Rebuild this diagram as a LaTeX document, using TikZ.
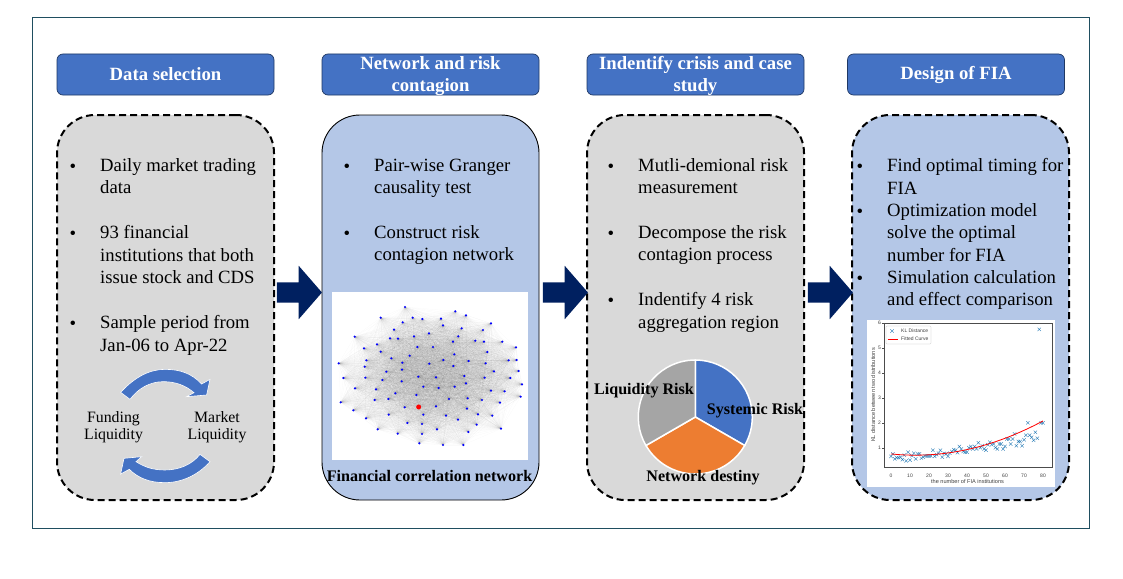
\documentclass[tikz,border=0pt]{standalone}
\usepackage{fontspec}
\setmainfont{Liberation Serif}
\newfontfamily\plotfont{Liberation Sans}
\usetikzlibrary{shapes.arrows,shapes.misc}
\definecolor{headblue}{HTML}{4472C4}
\definecolor{headedge}{HTML}{1F3864}
\definecolor{panelblue}{HTML}{B4C7E7}
\definecolor{panelgray}{HTML}{D9D9D9}
\definecolor{piegray}{HTML}{A5A5A5}
\definecolor{pieorange}{HTML}{ED7D31}
\definecolor{arrownavy}{HTML}{002060}
\definecolor{framecol}{HTML}{1F4E60}
\definecolor{klblue}{HTML}{1F77B4}
\tikzset{
  header/.style = {draw=headedge, fill=headblue, line width=.7pt, rounded corners=6pt, minimum width=217pt, minimum height=41pt, inner sep=0pt},
  headtext/.style = {inner sep=0pt, text=white, align=center, font=\fontsize{18.7}{22.3}\selectfont\bfseries},
  panel/.style = {rounded corners=38pt, minimum width=217pt, minimum height=385pt, inner sep=0pt},
  dashpanel/.style = {panel, draw=black, line width=2pt, dash pattern=on 7pt off 4pt},
  itemtext/.style = {anchor=north west, inner sep=0pt, align=left, font=\fontsize{18.7}{22.3}\selectfont, execute at begin node=\strut},
  itemdot/.style = {inner sep=0pt, font=\fontsize{18.7}{18.7}\selectfont},
  blockarrow/.style = {single arrow, fill=arrownavy, inner sep=10pt, minimum height=45pt,
    single arrow head extend=16.5pt, single arrow head indent=0pt, single arrow tip angle=98},
  loopflow/.style = {fill=headblue, draw=white, line width=.6pt},
  looplabel/.style = {inner sep=0pt, align=center, font=\fontsize{15.8}{17}\selectfont},
  wedge/.style = {draw=white, line width=1.5pt},
  pielabel/.style = {inner sep=0pt, font=\fontsize{16.1}{17}\selectfont\bfseries},
  netedge/.style = {draw=black!70, line width=.25pt, opacity=.024},
  netdot/.style = {circle, fill=blue, inner sep=0pt, minimum size=2.4pt},
  klmark/.style = {cross out, draw=klblue, line width=.35pt, inner sep=0pt, minimum size=3pt},
  ticktext/.style = {inner sep=0pt, text=black!75, font=\fontsize{5}{6}\plotfont},
}
\begin{document}
\begin{tikzpicture}[x=1pt, y=-1pt]
\useasboundingbox (0,0) rectangle (1123,578);
\fill[white] (0,0) rectangle (1123,578);
\draw[framecol, line width=.8pt] (32,17) rectangle (1089,528);

% headers
\node[header] (head1) at (165.5,74.5) {};
\node[header] (head2) at (430.5,74.5) {};
\node[header] (head3) at (695.5,74.5) {};
\node[header] (head4) at (956,74.5) {};
\node[headtext] (title1) at (head1) {Data selection};
\node[headtext] (title2) at (430.5,76) {Network and risk\\contagion};
\node[headtext] (title3) at (695.5,76) {Indentify crisis and case\\study};
\node[headtext] (title4) at (head4) {Design of FIA};

% panels
\node[dashpanel, fill=panelgray] (panel1) at (165.5,307.5) {};
\node[panel, draw=black, line width=.9pt, fill=panelblue] (panel2) at (430.5,307.5) {};
\node[dashpanel, fill=panelgray] (panel3) at (695.5,307.5) {};
\node[dashpanel, fill=panelblue] (panel4) at (960.5,307.5) {};

% arrows
\node[blockarrow] (arrow1) at (295,292.5) {};
\node[blockarrow] (arrow2) at (561,292.5) {};
\node[blockarrow] (arrow3) at (826,292.5) {};

% bullet items
\foreach \n/\px/\py/\txt in {
  a/100/165/{Daily market trading\\data},
  b/100/232/{93 financial\\institutions that both\\issue stock and CDS},
  c/100/322/{Sample period from\\Jan-06 to Apr-22},
  d/374/165/{Pair-wise Granger\\causality test},
  e/374/232/{Construct risk\\contagion network},
  f/638/165/{Mutli-demional risk\\measurement},
  g/638/232/{Decompose the risk\\contagion process},
  h/638/299/{Indentify 4 risk\\aggregation region},
  i/887/165/{Find optimal timing for\\FIA},
  j/887/210/{Optimization model\\solve the optimal\\number for FIA},
  k/887/277/{Simulation calculation\\and effect comparison}} {
  \node[itemtext] (item\n) at (\px,\py-6.5) {\txt};
  \node[itemdot] (dot\n) at (\px-27,\py+3) {\textbullet};
}

% liquidity loop
\begin{scope}[shift={(50,360)}, x=.3333pt, y=-.3333pt]
\draw[loopflow] (212,97) .. controls (255,50) and (300,28) .. (345,28) .. controls (390,28) and (425,40) .. (455,72)
  -- (480,58) -- (470,105) -- (410,110) -- (432,98) .. controls (405,75) and (375,65) .. (340,65)
  .. controls (300,65) and (265,85) .. (240,118) -- cycle;
\draw[loopflow] (480,305) .. controls (445,345) and (395,368) .. (345,368) .. controls (300,368) and (265,355) .. (238,328)
  -- (212,342) -- (222,295) -- (275,290) -- (258,305) .. controls (285,322) and (310,330) .. (345,330)
  .. controls (385,330) and (425,315) .. (450,283) -- cycle;
\end{scope}
\node[looplabel] (funding) at (113.5,427) {Funding\\Liquidity};
\node[looplabel] (market) at (217,427) {Market\\Liquidity};

% network picture
\fill[white] (332,292) rectangle (528,460);
\begin{scope}[shift={(325,285)}, x=.3333pt, y=-.3333pt]
\foreach \px/\py [count=\i] in {240/66,391/79,423/91,167/98,263/98,292/102,348/101,498/115,233/112,354/121,
  410/130,474/135,207/134,312/145,89/155,267/154,400/154,195/160,219/161,384/170,
  451/167,477/170,532/170,156/178,277/186,324/186,117/190,573/187,167/200,487/201,
  388/208,254/212,199/220,124/226,355/225,431/228,551/226,575/225,232/233,313/236,
  482/235,41/235,119/245,385/243,231/254,507/259,581/258,184/260,280/275,333/277,
  418/273,121/278,55/279,479/278,556/279,172/285,230/289,423/295,591/298,295/305,
  389/305,341/309,90/310,153/313,498/317,539/319,211/325,274/330,587/335,372/342,
  428/340,190/342,149/345,471/345,47/352,525/353,239/367,333/364,426/371,85/376,
  191/389,295/389,459/388,363/392,502/392,123/400,399/404,247/414,291/417,455/419,
  336/433,158/433,528/431,430/441,291/447,218/446,283/475,354/480,415/480,281/366} {
  \coordinate (n\i) at (\px,\py);
}
\foreach \i in {2,...,100} {
  \foreach \j in {1,...,\i} {
    \ifnum\j<\i
      \draw[netedge] (n\i) -- (n\j);
    \fi
  }
}
\foreach \i in {1,...,99} {
  \node[netdot] (netdot\i) at (n\i) {};
}
\node[circle, fill=red, inner sep=0pt, minimum size=5pt] (reddot) at (n100) {};
\end{scope}
\node[inner sep=0pt, font=\fontsize{16.1}{17}\selectfont\bfseries] (netcaption) at (429.5,476) {Financial correlation network};

% pie
\coordinate (piecenter) at (695.3,417);
\fill[headblue, wedge] (piecenter) -- ++(0,-57) arc[start angle=-90, end angle=30, radius=57] -- cycle;
\fill[pieorange, wedge] (piecenter) -- ++(49.4,28.5) arc[start angle=30, end angle=150, radius=57] -- cycle;
\fill[piegray, wedge] (piecenter) -- ++(-49.4,28.5) arc[start angle=150, end angle=270, radius=57] -- cycle;
\node[pielabel] (liqrisk) at (644,391) {Liquidity Risk};
\node[pielabel] (sysrisk) at (755,411) {Systemic Risk};
\node[pielabel] (netrisk) at (703,478) {Network destiny};

% KL distance picture
\fill[white] (867,320) rectangle (1055,487);
\draw[black!70, line width=.4pt] (884,323) rectangle (1052,467);
\begin{scope}[shift={(891,472.6)}, x=1.9pt, y=24.9pt]
\foreach \v [count=\k from 0] in {.65,.75,.55,.6,.6,.62,.52,.7,.47,.82,.5,.68,.78,.55,.75,.75,.58,.62,.67,.67,
  .67,.67,.9,.65,.72,.78,.9,.62,.77,.75,.65,.78,.85,.92,.9,.8,1.05,.95,.85,.82,
  .82,1,1.05,.95,1.05,.95,1.2,1,1.08,.95,.9,1.12,1.22,1.12,1.15,1,.95,1.15,1.15,.95,
  1.05,1.35,1.35,1.15,1.35,1.55,1.08,1.25,1.25,1.08,1.32,1.5,2,1.5,1.42,1.3,1.62,1.38,5.75,2,2} {
  \node[klmark] (kl\k) at (\k,\v) {};
}
\draw[red, line width=.8pt, domain=0:80, samples=30, smooth] plot (\x, {.000301*\x*\x-.00783*\x+.75});
\foreach \t in {0,10,...,80} {
  \node[ticktext] (xt\t) at (\t,-.14) {\t};
  \draw[black!70, line width=.3pt] (\t,.224) -- (\t,.17);
}
\foreach \t in {1,...,6} {
  \node[ticktext, anchor=east] (yt\t) at (-5.2,\t) {\t};
  \draw[black!70, line width=.3pt] (-3.7,\t) -- (-4.6,\t);
}
\end{scope}
\node[ticktext, font=\fontsize{5.6}{6}\plotfont] (xlabel) at (967.5,481) {the number of FIA institutions};
\node[ticktext, font=\fontsize{5.6}{6}\plotfont, rotate=90] (ylabel) at (873,395) {KL distance between two distributions};
\draw[black!25, line width=.3pt, rounded corners=1pt] (886,326) rectangle (931,344);
\node[klmark] (legmark) at (892,331) {};
\node[ticktext, anchor=west] (legkl) at (901,331) {KL Distance};
\coordinate (legleft) at (887.5,339);
\coordinate (legright) at (898,339);
\draw[red, line width=1pt] (legleft) -- (legright);
\node[ticktext, anchor=west] (legfit) at (901,339) {Fitted Curve};
\end{tikzpicture}
\end{document}
